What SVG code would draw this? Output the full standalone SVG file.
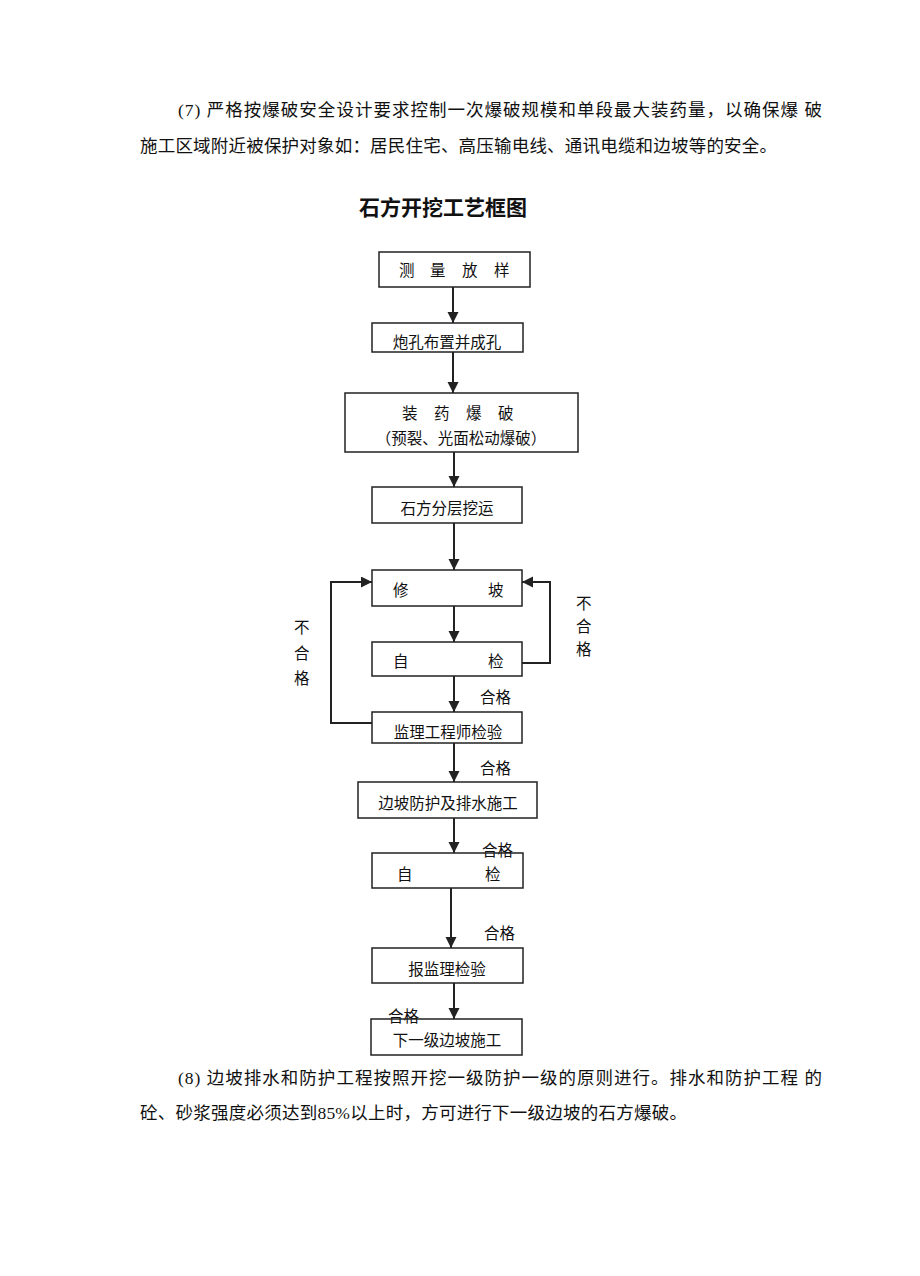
<svg xmlns="http://www.w3.org/2000/svg" width="920" height="1276" viewBox="0 0 920 1276">
<defs>
<style>
.t{font-family:"Liberation Serif","Noto Sans CJK SC",serif;fill:#111;}
.p{font-size:17.5px;}
.b{font-size:15.5px;dominant-baseline:central;}
.box{fill:none;stroke:#222;stroke-width:1.5;}
.c{fill:none;stroke:#222;stroke-width:2;}
</style>
<marker id="ah" markerUnits="userSpaceOnUse" markerWidth="12" markerHeight="12" refX="11" refY="5.5" orient="auto">
<path d="M0,0 L11,5.5 L0,11 Z" fill="#222"/>
</marker>
</defs>
<rect width="920" height="1276" fill="#fff"/>

<g id="para7">
<text class="t p" x="178" y="116" textLength="644" lengthAdjust="spacing">(7) 严格按爆破安全设计要求控制一次爆破规模和单段最大装药量，以确保爆 破</text>
<text class="t p" x="140" y="152" textLength="637" lengthAdjust="spacing">施工区域附近被保护对象如：居民住宅、高压输电线、通讯电缆和边坡等的安全。</text>
</g>

<g id="title">
<text class="t" x="443" y="215" font-size="21" font-weight="bold" text-anchor="middle">石方开挖工艺框图</text>
</g>

<g id="connectors">
<line class="c" x1="453" y1="287" x2="453" y2="323" marker-end="url(#ah)"/>
<line class="c" x1="453" y1="352" x2="453" y2="393" marker-end="url(#ah)"/>
<line class="c" x1="454" y1="452" x2="454" y2="487" marker-end="url(#ah)"/>
<line class="c" x1="454" y1="523" x2="454" y2="570" marker-end="url(#ah)"/>
<line class="c" x1="454" y1="606" x2="454" y2="642" marker-end="url(#ah)"/>
<line class="c" x1="454" y1="676" x2="454" y2="712" marker-end="url(#ah)"/>
<polyline class="c" points="372,723 331,723 331,582 372,582" marker-end="url(#ah)"/>
<polyline class="c" points="522,663 550,663 550,582 522,582" marker-end="url(#ah)"/>
<line class="c" x1="454" y1="743" x2="454" y2="782" marker-end="url(#ah)"/>
<line class="c" x1="454" y1="818" x2="454" y2="853" marker-end="url(#ah)"/>
<line class="c" x1="451" y1="888" x2="451" y2="948" marker-end="url(#ah)"/>
<line class="c" x1="454" y1="983" x2="454" y2="1019" marker-end="url(#ah)"/>
<text class="t b" x="480" y="697">合格</text>
<text class="t b" x="480" y="768">合格</text>
<text class="t b" x="482" y="850">合格</text>
<text class="t b" x="484" y="933">合格</text>
<text class="t b" x="388" y="1016">合格</text>
<text class="t b" x="294" y="627">不</text>
<text class="t b" x="294" y="653">合</text>
<text class="t b" x="294" y="678">格</text>
<text class="t b" x="576" y="603">不</text>
<text class="t b" x="576" y="626">合</text>
<text class="t b" x="576" y="649">格</text>
</g>

<g id="n1">
<rect class="box" x="379" y="252" width="151" height="35"/>
<text class="t b" x="399" y="270">测</text>
<text class="t b" x="430" y="270">量</text>
<text class="t b" x="462" y="270">放</text>
<text class="t b" x="494" y="270">样</text>
</g>
<g id="n2">
<rect class="box" x="372" y="323" width="151" height="29"/>
<text class="t b" x="447" y="342" text-anchor="middle">炮孔布置并成孔</text>
</g>
<g id="n3">
<rect class="box" x="345" y="393" width="233" height="59"/>
<text class="t b" x="402" y="413">装</text>
<text class="t b" x="434" y="413">药</text>
<text class="t b" x="466" y="413">爆</text>
<text class="t b" x="498" y="413">破</text>
<text class="t b" x="461" y="438" text-anchor="middle">（预裂、光面松动爆破）</text>
</g>
<g id="n4">
<rect class="box" x="372" y="487" width="150" height="36"/>
<text class="t b" x="447" y="508" text-anchor="middle">石方分层挖运</text>
</g>
<g id="n5">
<rect class="box" x="372" y="570" width="150" height="36"/>
<text class="t b" x="393" y="590">修</text>
<text class="t b" x="488" y="590">坡</text>
</g>
<g id="n6">
<rect class="box" x="372" y="642" width="150" height="34"/>
<text class="t b" x="393" y="661">自</text>
<text class="t b" x="488" y="661">检</text>
</g>
<g id="n7">
<rect class="box" x="372" y="712" width="150" height="31"/>
<text class="t b" x="448" y="732" text-anchor="middle">监理工程师检验</text>
</g>
<g id="n8">
<rect class="box" x="358" y="782" width="179" height="36"/>
<text class="t b" x="448" y="803" text-anchor="middle">边坡防护及排水施工</text>
</g>
<g id="n9">
<rect class="box" x="372" y="853" width="151" height="35"/>
<text class="t b" x="397" y="874">自</text>
<text class="t b" x="485" y="874">检</text>
</g>
<g id="n10">
<rect class="box" x="372" y="948" width="151" height="35"/>
<text class="t b" x="447" y="969" text-anchor="middle">报监理检验</text>
</g>
<g id="n11">
<rect class="box" x="371" y="1019" width="151" height="36"/>
<text class="t b" x="447" y="1040" text-anchor="middle">下一级边坡施工</text>
</g>

<g id="para8">
<text class="t p" x="178" y="1084" textLength="644" lengthAdjust="spacing">(8) 边坡排水和防护工程按照开挖一级防护一级的原则进行。排水和防护工程 的</text>
<text class="t p" x="140" y="1119" textLength="547" lengthAdjust="spacing">砼、砂浆强度必须达到85%以上时，方可进行下一级边坡的石方爆破。</text>
</g>
</svg>
